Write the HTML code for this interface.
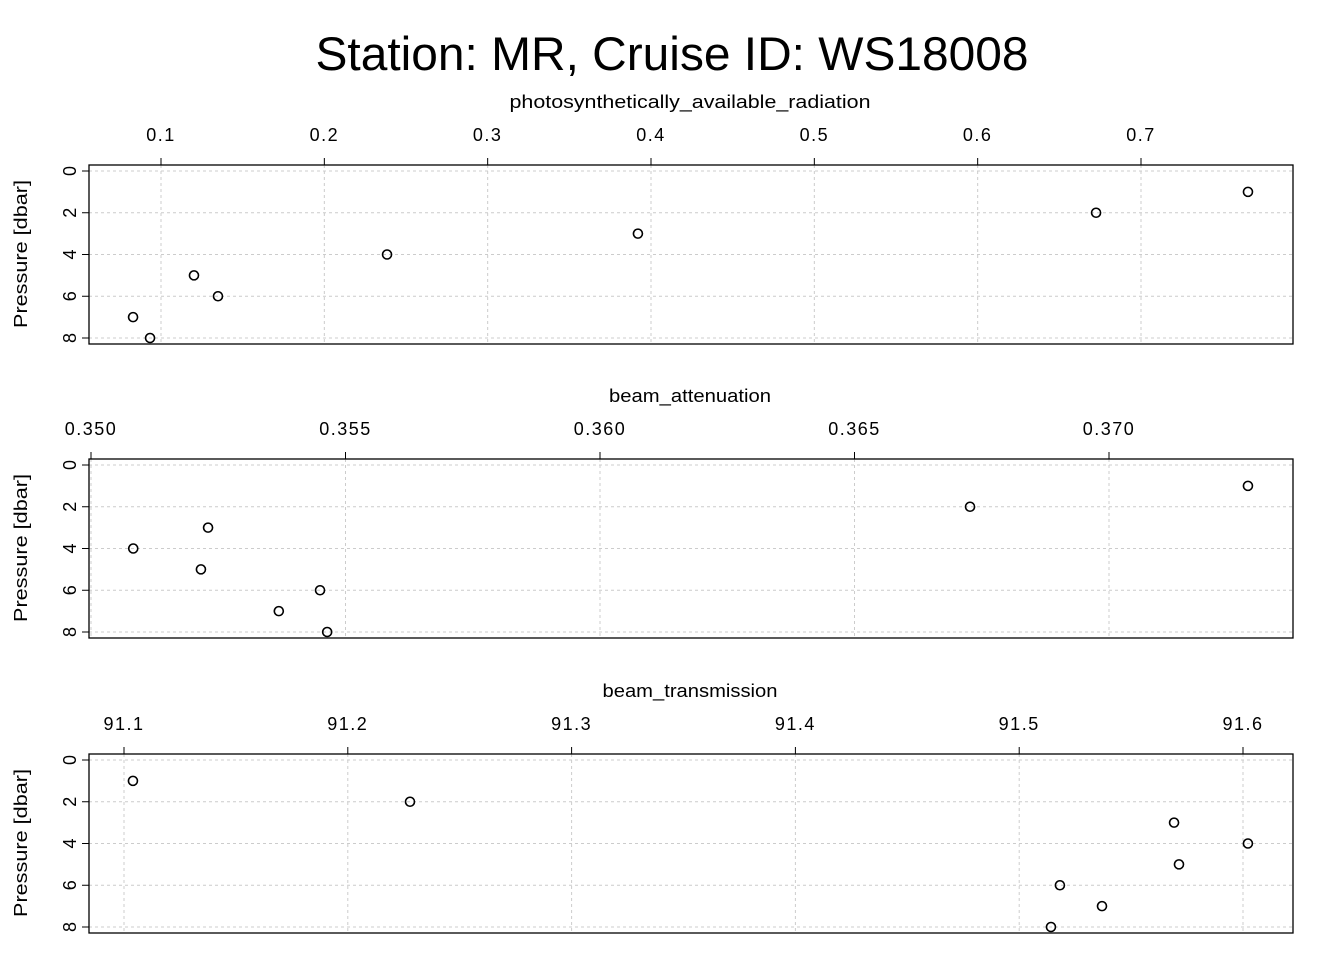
<!DOCTYPE html>
<html><head><meta charset="utf-8"><style>
body{margin:0;background:#fff}
svg text{font-family:"Liberation Sans",sans-serif;fill:#000}
</style></head><body>
<svg id="c" width="1344" height="960">
<text x="672" y="70" font-size="47" text-anchor="middle" textLength="713" lengthAdjust="spacingAndGlyphs">Station: MR, Cruise ID: WS18008</text>
</svg>
<script>
const pressure=[1,2,3,4,5,6,7,8];
const parValues=[0.7655,0.6725,0.392,0.2384,0.1202,0.1349,0.0829,0.0933];
const attenValues=[0.37273,0.36727,0.3523,0.35083,0.35216,0.3545,0.35369,0.35464];
const transValues=[91.104,91.2278,91.5692,91.6022,91.5714,91.5182,91.537,91.5142];
const parTicks=[0.1,0.2,0.3,0.4,0.5,0.6,0.7];
const attenTicks=[0.350,0.355,0.360,0.365,0.370];
const transTicks=[91.1,91.2,91.3,91.4,91.5,91.6];
const yTicks=[0,2,4,6,8];
const NS="http://www.w3.org/2000/svg";
const svg=document.getElementById('c');
function mk(t,a,p){const e=document.createElementNS(NS,t);for(const k in a)e.setAttribute(k,a[k]);(p||svg).appendChild(e);return e;}
const panels=[
 {name:'par',label:'photosynthetically_available_radiation',len:361,vals:parValues,ticks:parTicks,top:165,v0:0.1,p0:161,v1:0.7,p1:1141,fmt:v=>String(v)},
 {name:'attenuation',label:'beam_attenuation',len:162,vals:attenValues,ticks:attenTicks,top:459,v0:0.35,p0:91,v1:0.37,p1:1109,fmt:v=>v.toFixed(3)},
 {name:'transmission',label:'beam_transmission',len:175,vals:transValues,ticks:transTicks,top:754,v0:91.1,p0:124,v1:91.6,p1:1243,fmt:v=>v.toFixed(1)}
];
const L=89,R=1293;
panels.forEach(P=>{
 const g=mk('g',{});
 
 
 const top=P.top,bot=top+179;
 const x=v=>P.p0+(v-P.v0)*(P.p1-P.p0)/(P.v1-P.v0);
 const y=p=>top+6+p*20.875;
 P.ticks.forEach(t=>{
  const gl=mk('line',{x1:x(t),x2:x(t),y1:top,y2:bot,stroke:'#ccc','stroke-dasharray':'3,3'},g);
  
  mk('line',{x1:x(t),x2:x(t),y1:top,y2:top-7,stroke:'#000'},g);
  const tl=mk('text',{x:x(t),y:top-24,'font-size':'18','text-anchor':'middle','letter-spacing':'1.5'},g);
  tl.textContent=P.fmt(t);
  
 });
 yTicks.forEach(t=>{
  const gl=mk('line',{x1:L,x2:R,y1:y(t),y2:y(t),stroke:'#ccc','stroke-dasharray':'3,3'},g);
  
  mk('line',{x1:L,x2:L-7,y1:y(t),y2:y(t),stroke:'#000'},g);
  const tl=mk('text',{x:0,y:0,'font-size':'18','text-anchor':'middle',transform:`translate(${L-13},${y(t)}) rotate(-90)`},g);
  tl.textContent=t;
  
 });
 mk('line',{x1:x(P.ticks[0]),x2:x(P.ticks[P.ticks.length-1]),y1:top,y2:top,stroke:'#000'},g);
 mk('line',{x1:L,x2:L,y1:y(0),y2:y(8),stroke:'#000'},g);
 const box=mk('rect',{x:L,y:top,width:R-L,height:bot-top,fill:'none',stroke:'#000','stroke-width':1.3},g);
 
 const xl=mk('text',{x:690,y:top-57,'font-size':'18','text-anchor':'middle',textLength:P.len,lengthAdjust:'spacingAndGlyphs'},g);
 xl.textContent=P.label;
 
 const yl=mk('text',{x:0,y:0,'font-size':'18','text-anchor':'middle',textLength:148,lengthAdjust:'spacingAndGlyphs',transform:`translate(27,${top+89}) rotate(-90)`},g);
 yl.textContent='Pressure [dbar]';
 
 P.vals.forEach((v,i)=>{
  const c=mk('circle',{cx:x(v),cy:y(pressure[i]),r:4.5,fill:'none',stroke:'#000','stroke-width':1.6},g);
  
  
 });
});
</script>
</body></html>
